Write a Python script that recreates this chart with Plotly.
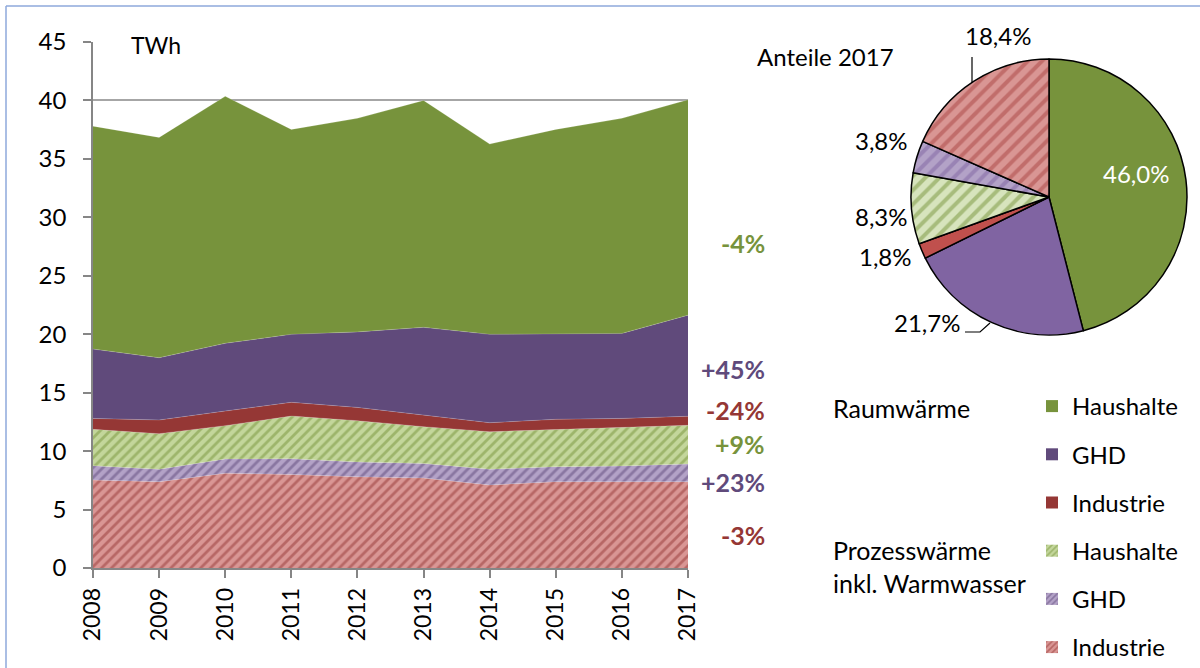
import plotly.graph_objects as go

# ---------------- data ----------------
years = [2008, 2009, 2010, 2011, 2012, 2013, 2014, 2015, 2016, 2017]

# layer values (TWh), bottom to top of the stack
prozess_industrie = [7.53, 7.38, 8.10, 8.00, 7.80, 7.70, 7.10, 7.38, 7.38, 7.38]
prozess_ghd       = [1.22, 1.06, 1.22, 1.35, 1.27, 1.25, 1.34, 1.29, 1.35, 1.52]
prozess_haushalte = [3.11, 3.05, 2.86, 3.65, 3.53, 3.14, 3.22, 3.19, 3.30, 3.31]
raum_industrie    = [0.94, 1.17, 1.25, 1.17, 1.14, 1.00, 0.77, 0.86, 0.77, 0.77]
raum_ghd          = [5.93, 5.33, 5.79, 5.82, 6.46, 7.50, 7.56, 7.28, 7.27, 8.65]
raum_haushalte    = [19.07, 18.85, 21.13, 17.53, 18.27, 19.41, 16.28, 17.52, 18.40, 18.43]

series_names = ["Industrie", "GHD", "Haushalte", "Industrie", "GHD", "Haushalte"]
changes = ["-3%", "+23%", "+9%", "-24%", "+45%", "-4%"]

pie_labels = ["Raumwärme Haushalte", "Raumwärme GHD", "Raumwärme Industrie",
              "Prozesswärme Haushalte", "Prozesswärme GHD", "Prozesswärme Industrie"]
pie_values = [46.0, 21.7, 1.8, 8.3, 3.8, 18.4]

y_ticks = [0, 5, 10, 15, 20, 25, 30, 35, 40, 45]

# ---------------- styles ----------------
W, H = 1200, 668
FONT = "Lato, Carlito, 'Liberation Sans', sans-serif"
GREEN, PURPLE, RED = "#77933C", "#604A7B", "#953735"

def X(px):
    return px / W

def Y(py):
    return 1 - py / H

layers = [prozess_industrie, prozess_ghd, prozess_haushalte,
          raum_industrie, raum_ghd, raum_haushalte]
styles = [
    dict(bg="#D99694", fg=RED, pat="/"),
    dict(bg="#B3A2C7", fg=PURPLE, pat="/"),
    dict(bg="#C3D69B", fg=GREEN, pat="/"),
    dict(bg=RED, fg=RED, pat=""),
    dict(bg=PURPLE, fg=PURPLE, pat=""),
    dict(bg=GREEN, fg=GREEN, pat=""),
]

fig = go.Figure()

for vals, st, nm in zip(layers, styles, series_names):
    kw = {}
    if st["pat"]:
        kw["fillpattern"] = dict(shape=st["pat"], bgcolor=st["bg"], fgcolor=st["fg"],
                                 size=7, solidity=0.4, fillmode="overlay")
    fig.add_trace(go.Scatter(
        x=years, y=vals, name=nm, stackgroup="one", mode="lines",
        line=dict(width=0.5, color="rgba(255,255,255,0.35)"),
        fillcolor=st["bg"], showlegend=False, hoverinfo="skip", **kw))

# legend entries (bars with pattern) on hidden axes, top of stack first
for i in reversed(range(len(styles))):
    st, nm = styles[i], series_names[i]
    fig.add_trace(go.Bar(
        x=[0], y=[0], name=nm, xaxis="x2", yaxis="y2",
        legendgroup=f"g{i}",
        marker=dict(color=st["bg"], line=dict(width=0),
                    pattern=dict(shape=st["pat"], bgcolor=st["bg"], fgcolor=st["fg"],
                                 size=5, solidity=0.4, fillmode="overlay")),
        showlegend=True, hoverinfo="skip"))

# pie
pie_bg = [GREEN, "#8064A2", "#C0504D", "#D7E4BD", "#B3A2C7", "#D99694"]
pie_fg = [GREEN, "#8064A2", "#C0504D", GREEN, "#8064A2", "#A94442"]
pie_shape = ["", "", "", "/", "/", "/"]
fig.add_trace(go.Pie(
    labels=pie_labels, values=pie_values, sort=False, direction="clockwise",
    rotation=0, textinfo="none", showlegend=False, hoverinfo="skip",
    marker=dict(colors=pie_bg, line=dict(color="black", width=1.5),
                pattern=dict(shape=pie_shape, bgcolor=pie_bg, fgcolor=pie_fg,
                             size=10, solidity=0.4, fillmode="overlay")),
    domain=dict(x=[X(911), X(1187)], y=[Y(335), Y(59)])))

axis_col = "#868686"
fig.update_layout(
    width=W, height=H,
    margin=dict(l=0, r=0, t=0, b=0, autoexpand=False),
    paper_bgcolor="white", plot_bgcolor="white",
    font=dict(family=FONT, size=24, color="black"),
    xaxis=dict(domain=[X(93), X(688)], range=[2008, 2017], tickmode="array",
               tickvals=years, ticktext=[str(y) for y in years], tickangle=-90,
               showgrid=False, showline=True, linecolor=axis_col, linewidth=1.5,
               ticks="outside", ticklen=8, tickcolor=axis_col, tickwidth=1.5,
               zeroline=False, tickfont=dict(size=23), automargin=False,
               ticklabelstandoff=1),
    yaxis=dict(domain=[Y(568), Y(42)], range=[0, 45], tickvals=y_ticks,
               showgrid=True, gridcolor="#A6A6A6", gridwidth=1.5,
               showline=True, linecolor=axis_col, linewidth=1.5,
               ticks="outside", ticklen=8, tickcolor=axis_col, tickwidth=1.5,
               zeroline=False, tickfont=dict(size=24), ticklabelstandoff=12,
               automargin=False),
    xaxis2=dict(domain=[0, 0.01], visible=False, anchor="y2", automargin=False),
    yaxis2=dict(domain=[0, 0.01], visible=False, anchor="x2", automargin=False),
    showlegend=True,
    legend=dict(x=X(1032), y=Y(384), xanchor="left", yanchor="top",
                traceorder="grouped", tracegroupgap=14,
                font=dict(size=24), bgcolor="rgba(0,0,0,0)", itemwidth=30),
    bargap=0,
)

shapes = []
# white gap behind "TWh"
shapes.append(dict(type="rect", xref="paper", yref="paper",
                   x0=X(111), x1=X(213), y0=Y(50), y1=Y(34),
                   fillcolor="white", line=dict(width=0), layer="above"))
# outer border
shapes.append(dict(type="line", xref="paper", yref="paper",
                   x0=X(6), x1=X(6), y0=Y(6), y1=0, line=dict(color="#8EA9DB", width=1.5)))
shapes.append(dict(type="line", xref="paper", yref="paper",
                   x0=X(6), x1=1, y0=Y(6), y1=Y(6), line=dict(color="#8EA9DB", width=1.5)))
# pie leader lines
shapes.append(dict(type="line", xref="paper", yref="paper",
                   x0=X(972), x1=X(972), y0=Y(57), y1=Y(83), line=dict(color="black", width=1.2)))
shapes.append(dict(type="path", xref="paper", yref="paper",
                   path=f"M {X(965)},{Y(332)} L {X(980)},{Y(332)} L {X(990)},{Y(323)}",
                   line=dict(color="black", width=1.2)))

ann = []
ann.append(dict(text="TWh", x=X(129), y=Y(45), xref="paper", yref="paper",
                xanchor="left", yanchor="middle", showarrow=False, font=dict(size=23)))
# change labels
chg_y = [535, 482, 444, 410, 369, 243]
chg_col = [RED, PURPLE, GREEN, RED, PURPLE, GREEN]
for t, yy, c in zip(changes, chg_y, chg_col):
    ann.append(dict(text=f"<b>{t}</b>", x=X(767), y=Y(yy), xref="paper", yref="paper",
                    xanchor="right", yanchor="middle", showarrow=False,
                    font=dict(size=25, color=c)))
# pie title
ann.append(dict(text="Anteile 2017", x=X(755), y=Y(56), xref="paper", yref="paper",
                xanchor="left", yanchor="middle", showarrow=False, font=dict(size=24)))
# pie labels
def fmt(v):
    return f"{v:.1f}".replace(".", ",") + "%"

pie_lab_pos = [(1136, 173, "white"), (927, 323, "black"), (885, 256, "black"),
               (881, 216, "black"), (881, 140, "black"), (998, 36, "black")]
for v, (px, py, col) in zip(pie_values, pie_lab_pos):
    ann.append(dict(text=fmt(v), x=X(px), y=Y(py), xref="paper", yref="paper",
                    xanchor="center", yanchor="middle", showarrow=False,
                    font=dict(size=24, color=col)))
# legend group titles
ann.append(dict(text="Raumwärme", x=X(831), y=Y(408), xref="paper", yref="paper",
                xanchor="left", yanchor="middle", showarrow=False, font=dict(size=25)))
ann.append(dict(text="Prozesswärme<br>inkl. Warmwasser", x=X(831), y=Y(566), xref="paper",
                yref="paper", xanchor="left", yanchor="middle", align="left",
                showarrow=False, font=dict(size=25)))

fig.update_layout(shapes=shapes, annotations=ann)

fig.write_html("out.html", config={"displayModeBar": False},
               post_script="document.body.style.margin='0';document.body.style.padding='0';")
